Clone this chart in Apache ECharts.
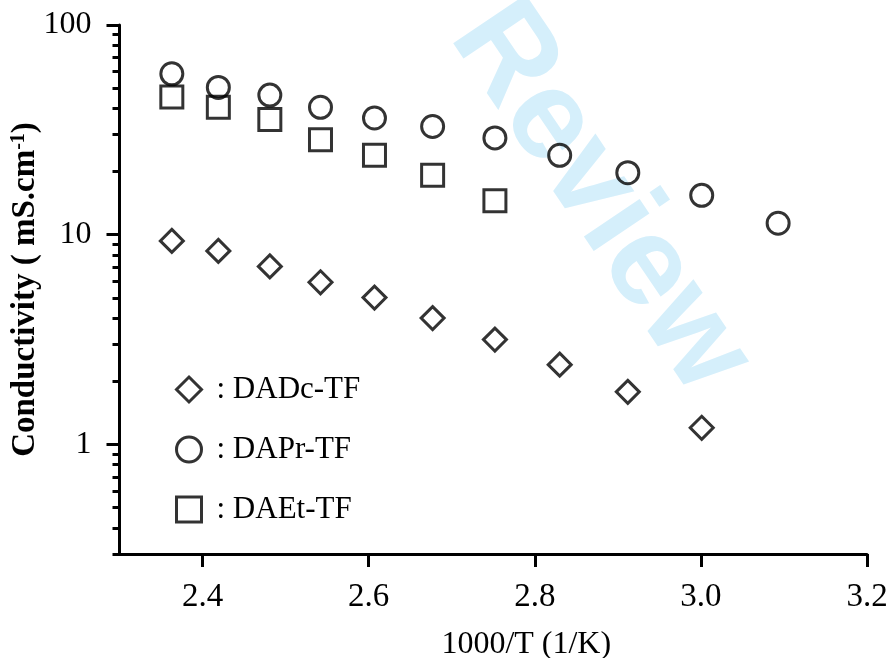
<!DOCTYPE html>
<html>
<head>
<meta charset="utf-8">
<script src="https://cdn.jsdelivr.net/npm/echarts@6/dist/echarts.min.js"></script>
<style>html,body{margin:0;padding:0;background:#fff;}#c{width:895px;height:658px;}</style>
</head>
<body>
<div id="c"></div>
<script>
// ---- data ----
const xInvT = [2.363, 2.419, 2.481, 2.542, 2.607, 2.677, 2.752, 2.830, 2.912, 3.001, 3.093];
const dadcTF = [9.34, 8.37, 7.06, 5.93, 5.01, 4.00, 3.16, 2.40, 1.78, 1.20];
const daprTF = [58.5, 50.4, 46.3, 40.5, 36.0, 32.8, 28.95, 23.9, 19.75, 15.4, 11.34];
const daetTF = [45.4, 40.5, 35.4, 28.4, 23.9, 19.2, 14.5];
const seriesNames = ['DADc-TF', 'DAPr-TF', 'DAEt-TF'];
const xTicks = [2.4, 2.6, 2.8, 3.0, 3.2];
const yMajorTicks = [1, 10, 100];
const yMinorTicks = [0.3, 0.4, 0.5, 0.6, 0.7, 0.8, 0.9, 2, 3, 4, 5, 6, 7, 8, 9, 20, 30, 40, 50, 60, 70, 80, 90];

const pairs = (xs, ys) => ys.map((v, i) => [xs[i], v]);
const serif = "'Liberation Serif', 'Times New Roman', serif";
const markStyle = { color: 'rgba(255,255,255,0)', borderColor: '#000', borderWidth: 3 };

const chart = echarts.init(document.getElementById('c'), null, { renderer: 'canvas' });
chart.setOption({
  animation: false,
  backgroundColor: '#fff',
  graphic: [{
    type: 'text', z: -10, silent: true,
    x: 600, y: 198, rotation: -56 * Math.PI / 180,
    style: { text: 'Review', fontSize: 127, fontWeight: 'bold', fontFamily: "'Liberation Sans', Arial, sans-serif",
             fill: '#d5effb', align: 'center', verticalAlign: 'middle' }
  }],
  grid: { left: 119.5, right: 28, top: 25, bottom: 104, containLabel: false, outerBoundsMode: 'none' },
  legend: {
    orient: 'vertical', left: 170, top: 369, itemWidth: 25, itemHeight: 25, itemGap: 29,
    data: seriesNames,
    formatter: ': {name}',
    itemStyle: { borderWidth: 3, borderColor: '#000', color: 'rgba(255,255,255,0)' },
    textStyle: { fontFamily: serif, fontSize: 31, color: '#000', padding: [0, 0, 0, 10], lineHeight: 25 },
    selectedMode: false
  },
  xAxis: {
    type: 'value', min: 2.3, max: 3.2,
    axisLine: { show: true, lineStyle: { color: '#000', width: 3 } },
    axisTick: { show: true, length: 13, lineStyle: { color: '#000', width: 3 }, customValues: xTicks },
    axisLabel: { customValues: xTicks, formatter: v => Number(v).toFixed(1), fontFamily: serif, fontSize: 33, color: '#000', margin: 27 },
    splitLine: { show: false },
    name: '1000/T (1/K)', nameLocation: 'middle', nameGap: 75, nameMoveOverlap: false,
    nameTextStyle: { fontFamily: serif, fontSize: 32, color: '#000', padding: [0, 0, 0, 66] }
  },
  yAxis: [{
    type: 'log', logBase: 10, min: 0.3, max: 100,
    axisLine: { show: true, lineStyle: { color: '#000', width: 3 } },
    axisTick: { show: true, length: 13, lineStyle: { color: '#000', width: 3 }, customValues: yMajorTicks },
    axisLabel: { customValues: yMajorTicks, formatter: v => String(Math.round(v)), fontFamily: serif, fontSize: 32, color: '#000', margin: 28 },
    splitLine: { show: false },
    minorTick: { show: false },
    name: 'Conductivity ( mS.cm{sup|-1})', nameLocation: 'middle', nameGap: 77, nameRotate: 90, nameMoveOverlap: false,
    nameTextStyle: { fontFamily: serif, fontSize: 33, fontWeight: 'bold', color: '#000',
      rich: { sup: { fontFamily: serif, fontSize: 20, fontWeight: 'bold', color: '#000', verticalAlign: 'top', padding: [0, 0, 14, 0] } } }
  }, {
    type: 'log', logBase: 10, min: 0.3, max: 100, position: 'left',
    axisLine: { show: false },
    axisTick: { show: true, length: 7, lineStyle: { color: '#000', width: 3 }, customValues: yMinorTicks },
    axisLabel: { show: false },
    splitLine: { show: false }
  }],
  series: [
    { name: seriesNames[0], type: 'scatter', symbol: 'diamond', symbolSize: 23, data: pairs(xInvT, dadcTF), itemStyle: markStyle, emphasis: { disabled: true } },
    { name: seriesNames[1], type: 'scatter', symbol: 'circle', symbolSize: 22, data: pairs(xInvT, daprTF), itemStyle: markStyle, emphasis: { disabled: true } },
    { name: seriesNames[2], type: 'scatter', symbol: 'rect', symbolSize: 22, data: pairs(xInvT, daetTF), itemStyle: markStyle, emphasis: { disabled: true } }
  ]
});
</script>
</body>
</html>
